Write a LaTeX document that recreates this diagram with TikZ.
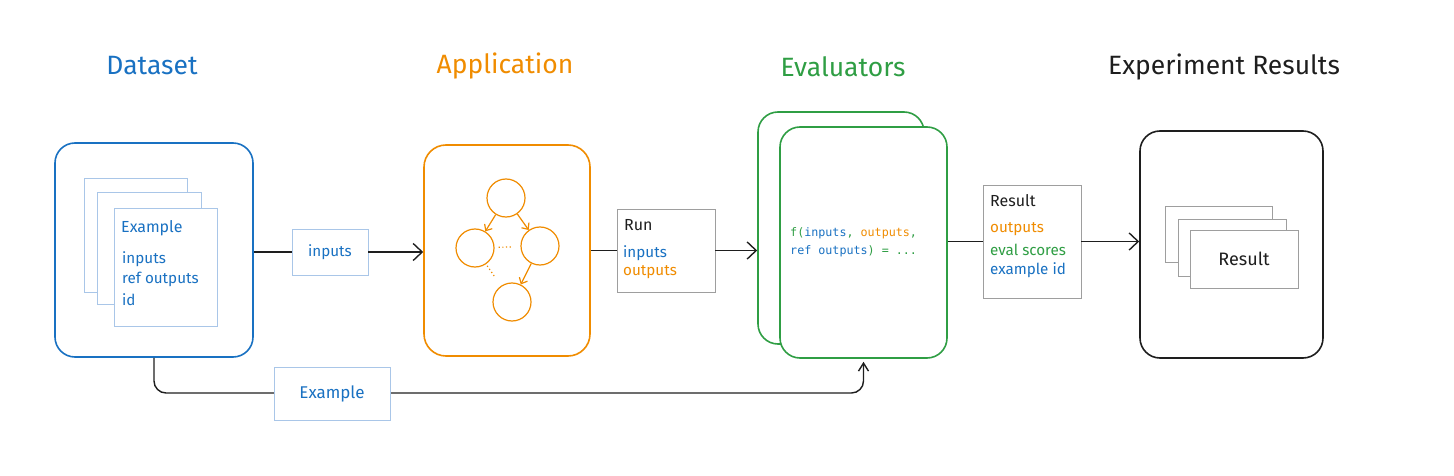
\documentclass[tikz,border=0pt]{standalone}
\usepackage{fontspec}
\setmainfont{Fira Sans}
\setmonofont{DejaVu Sans Mono}
\usetikzlibrary{arrows.meta}

\definecolor{dsblue}{HTML}{1971C2}
\definecolor{apporange}{HTML}{F08C00}
\definecolor{evgreen}{HTML}{2F9E44}
\definecolor{pageblue}{HTML}{A9C6E8}
\definecolor{cardgray}{HTML}{9E9E9E}
\definecolor{ink}{HTML}{1E1E1E}

\begin{document}
\begin{tikzpicture}[x=1pt,y=-1pt,
  box/.style={draw, rounded corners=20pt, line width=1.6pt, fill=white, inner sep=0pt},
  page/.style={draw=pageblue, line width=0.9pt, fill=white, inner sep=0pt},
  card/.style={draw=cardgray, line width=0.9pt, fill=white, inner sep=0pt},
  title/.style={font=\fontsize{26.5}{30}\selectfont},
  head/.style={font=\fontsize{16}{19}\selectfont, inner sep=0pt, anchor=west},
  lbl/.style={font=\fontsize{15.2}{18}\selectfont, inner sep=0pt, anchor=west},
  code/.style={font=\ttfamily\fontsize{11.7}{14}\selectfont, inner sep=0pt, anchor=west},
  flow/.style={line width=1.4pt, draw=ink},
  tip/.style={-{Straight Barb[length=9pt,width=17pt]}},
  ball/.style={circle, draw=apporange, line width=1.2pt, minimum size=38pt, inner sep=0pt},
  link/.style={draw=apporange, line width=1.2pt, -{Straight Barb[length=5pt,width=9pt]}}]
\useasboundingbox (0,0) rectangle (1454,476);

% titles
\node[title, text=dsblue] (tds) at (152,66) {Dataset};
\node[title, text=apporange] (tapp) at (505,66) {Application};
\node[title, text=evgreen] (tev) at (843,67) {Evaluators};
\node[title, text=ink] (tres) at (1224,67) {Experiment Results};

% dataset
\node[box, draw=dsblue, minimum width=198pt, minimum height=214pt] (dataset) at (154,250) {};
\node[page, minimum width=103pt, minimum height=114pt] (pg1) at (135.5,235) {};
\node[page, minimum width=104pt, minimum height=112pt] (pg2) at (149,248) {};
\node[page, minimum width=103pt, minimum height=118pt] (pg3) at (165.5,267) {};
\node[head, text=dsblue] (pghead) at (121,228) {Example};
\node[lbl, text=dsblue] (pgin) at (122,259) {inputs};
\node[lbl, text=dsblue] (pgref) at (122,279) {ref outputs};
\node[lbl, text=dsblue] (pgid) at (122,300) {id};

% application
\node[box, draw=apporange, rounded corners=22pt, minimum width=166pt, minimum height=211pt] (app) at (507,250.5) {};
\node[ball] (c1) at (506,198) {};
\node[ball] (c2) at (475,248) {};
\node[ball] (c3) at (540,246) {};
\node[ball] (c4) at (512,302) {};
\draw[link] (c1) -- (c2);
\draw[link] (c1) -- (c3);
\draw[link] (c3) -- (c4);
\draw[apporange, line width=1.2pt, dash pattern=on 1.2pt off 2.5pt, shorten <=4pt, shorten >=8pt] (c2) -- (c3);
\draw[apporange, line width=1.2pt, dash pattern=on 1.2pt off 2.5pt, shorten <=2pt, shorten >=12pt] (c2) -- (c4);

% run
\node[card, minimum width=98pt, minimum height=83pt] (run) at (666,250.5) {};
\node[head, text=ink] (runhead) at (624,225) {Run};
\node[lbl, text=dsblue] (runin) at (623,253) {inputs};
\node[lbl, text=apporange] (runout) at (623,272) {outputs};

% evaluators
\node[box, draw=evgreen, minimum width=166pt, minimum height=232pt] (evalback) at (841,228) {};
\node[box, draw=evgreen, minimum width=167pt, minimum height=231pt] (evalfront) at (863.5,242.5) {};
\node[code] (fn1) at (790,233) {\textcolor{evgreen}{f(}\textcolor{dsblue}{inputs}\textcolor{evgreen}{, }\textcolor{apporange}{outputs}\textcolor{evgreen}{,}};
\node[code] (fn2) at (790,251) {\textcolor{dsblue}{ref outputs}\textcolor{evgreen}{) = ...}};

% result
\node[card, minimum width=98pt, minimum height=113pt] (result) at (1032,241.5) {};
\node[head, text=ink] (reshead) at (990,201) {Result};
\node[lbl, text=apporange] (resout) at (990,229) {outputs};
\node[lbl, text=evgreen] (resscore) at (990,250) {eval scores};
\node[lbl, text=dsblue] (resid) at (990,270) {example id};

% experiment results
\node[box, draw=ink, minimum width=183pt, minimum height=227pt] (exp) at (1231.5,244.5) {};
\node[card, minimum width=107pt, minimum height=56pt] (rc1) at (1218.5,234) {};
\node[card, minimum width=108pt, minimum height=57pt] (rc2) at (1232,247.5) {};
\node[card, minimum width=108pt, minimum height=58pt, font=\fontsize{18}{21}\selectfont, text=ink] (rc3) at (1244,259) {Result};

% inputs tag
\node[page, minimum width=76pt, minimum height=46pt, font=\fontsize{15.2}{18}\selectfont, text=dsblue] (tagin) at (330,252) {inputs};

% connectors
\draw[flow] (dataset.east |- tagin.west) -- (tagin.west);
\draw[flow, tip] (tagin.east) -- (app.west |- tagin.east);
\draw[flow] (app.east |- run.west) -- (run.west);
\draw[flow, tip] (run.east) -- (evalback.west |- run.east);
\draw[flow] (evalfront.east |- result.west) -- (result.west);
\draw[flow, tip] (result.east) -- (exp.west |- result.east);

\coordinate (turn) at (863.5,393);
\draw[flow, rounded corners=12pt, -{Straight Barb[length=8pt,width=10pt]}, shorten >=3pt] (dataset.south) |- (turn) -- (evalfront.south);
\node[page, minimum width=116pt, minimum height=53pt, font=\fontsize{17}{20}\selectfont, text=dsblue] (tagex) at (332,393.5) {Example};
\end{tikzpicture}
\end{document}
